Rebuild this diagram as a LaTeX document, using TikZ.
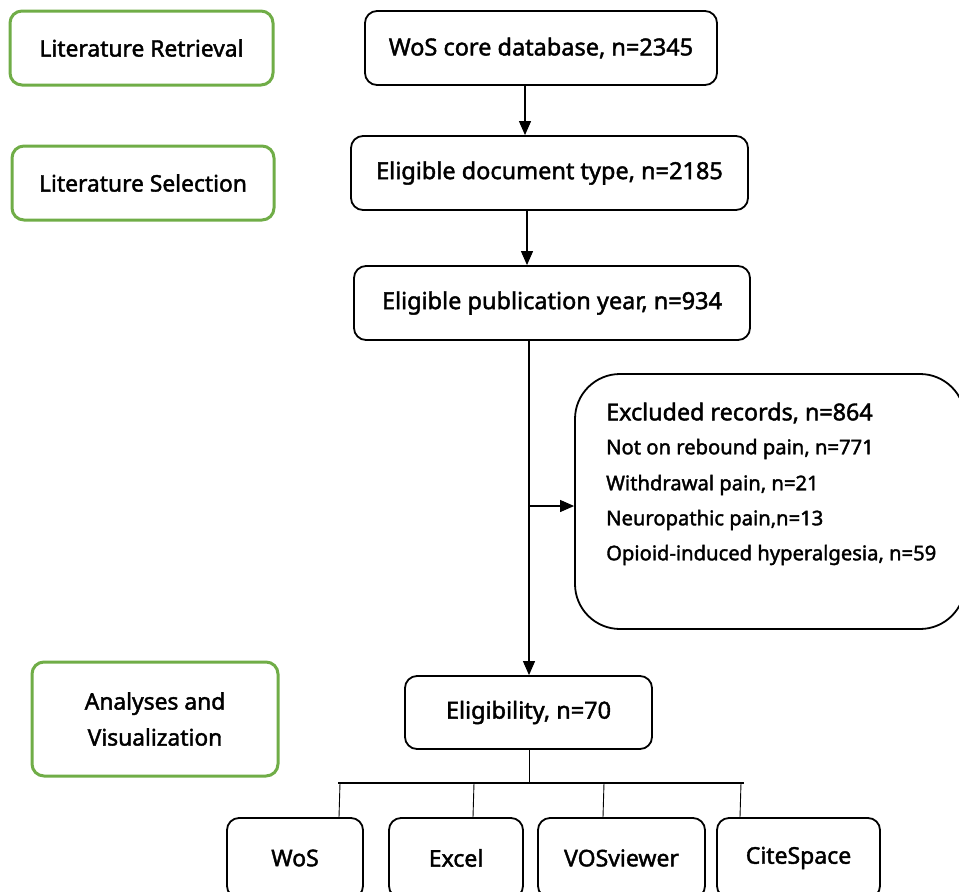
\documentclass[tikz,border=0pt]{standalone}
\usepackage{fontspec}
\setmainfont{Noto Sans}[FakeBold=1.8]
\usetikzlibrary{arrows.meta}
\definecolor{stagegreen}{RGB}{112,173,71}
\begin{document}
\begin{tikzpicture}[x=1pt,y=-1pt,
  stagebox/.style={draw=stagegreen,line width=3pt,rounded corners=12pt,fill=white,font=\fontsize{22.8}{36}\selectfont,align=center,inner sep=0pt},
  flowbox/.style={draw=black,line width=1.8pt,rounded corners=12pt,fill=white,font=\fontsize{23.5}{28}\selectfont,inner sep=0pt},
  toolbox/.style={draw=black,line width=1.8pt,rounded corners=12pt,fill=white,font=\fontsize{23}{28}\selectfont,inner sep=0pt},
  exhead/.style={anchor=west,font=\fontsize{23.3}{28}\selectfont,inner sep=0pt},
  exline/.style={anchor=west,font=\fontsize{20.2}{24}\selectfont,inner sep=0pt},
  arr/.style={line width=1.1pt,-{Triangle[width=12pt,length=14pt]}},
  thin/.style={line width=0.9pt}]
\useasboundingbox (0,0) rectangle (959,892);
% stage boxes
\node[stagebox,minimum width=263pt,minimum height=74pt] (ret) at (141.5,48) {Literature Retrieval};
\node[stagebox,minimum width=262pt,minimum height=74pt] (sel) at (143,183) {Literature Selection};
\node[stagebox,minimum width=246pt,minimum height=114pt] (ana) at (155,719) {Analyses and\\Visualization};
% flow boxes
\node[flowbox,minimum width=352pt,minimum height=74pt] (wos) at (541,48) {WoS core database, n=2345};
\node[flowbox,minimum width=397pt,minimum height=74pt] (doc) at (549.5,173) {Eligible document type, n=2185};
\node[flowbox,minimum width=396pt,minimum height=74pt] (year) at (552,303) {Eligible publication year, n=934};
\node[draw=black,line width=1.8pt,rounded corners=45pt,fill=white,minimum width=390pt,minimum height=255pt,inner sep=0pt] (exc) at (770,501.5) {};
\node[exhead] (exct) at (606,413) {Excluded records, n=864};
\node[exline] (ex1) at (606,449) {Not on rebound pain, n=771};
\node[exline] (ex2) at (606,485) {Withdrawal pain, n=21};
\node[exline] (ex3) at (606,520) {Neuropathic pain,n=13};
\node[exline] (ex4) at (606,555) {Opioid-induced hyperalgesia, n=59};
\node[flowbox,minimum width=247pt,minimum height=73pt] (elig) at (528.5,712.5) {Eligibility, n=70};
% tool boxes
\node[toolbox,minimum width=136pt,minimum height=80pt] (t1) at (295,858) {WoS};
\node[toolbox,minimum width=134pt,minimum height=80pt] (t2) at (456,858) {Excel};
\node[toolbox,minimum width=167pt,minimum height=80pt] (t3) at (621.5,858) {VOSviewer};
\node[toolbox,minimum width=163pt,minimum height=80pt] (t4) at (798.5,858) {CiteSpace};
% connectors
\draw[arr] (wos.south -| 525,0) -- (doc.north -| 525,0);
\draw[arr] (doc.south -| 527,0) -- (year.north -| 527,0);
\draw[arr] (year.south -| 529,0) -- (elig.north -| 529,0);
\coordinate (br) at (529,506);
\draw[arr] (br) -- (exc.west |- br);
\coordinate (busL) at (338,783);
\coordinate (busR) at (744,783);
\coordinate (busM) at (529,783);
\draw[line width=2.5pt] (busL) -- (busR);
\draw[thin] (elig.south -| 529,0) -- (busM);
\draw[thin] (340,783) -- (t1.north -| 339,0);
\draw[thin] (474,783) -- (t2.north -| 473,0);
\draw[thin] (604,783) -- (t3.north -| 603,0);
\draw[thin] (741,783) -- (t4.north -| 740,0);
\end{tikzpicture}
\end{document}
